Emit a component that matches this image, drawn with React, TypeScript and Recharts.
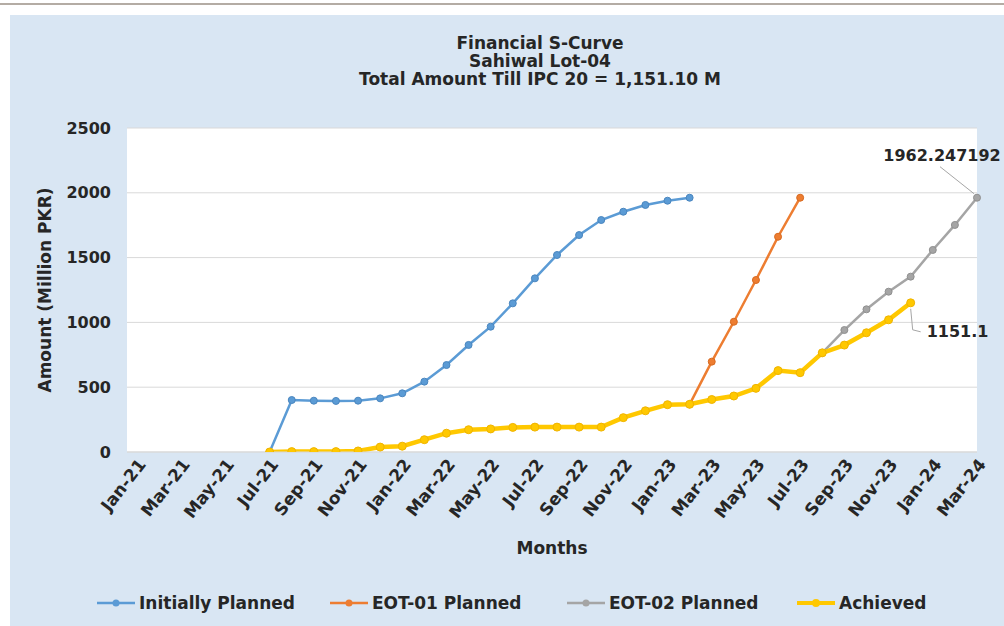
import React from "react";
import { LineChart, Line, XAxis, YAxis, CartesianGrid } from "recharts";

const months = [
  "Jan-21", "Feb-21", "Mar-21", "Apr-21", "May-21", "Jun-21", "Jul-21", "Aug-21", "Sep-21", "Oct-21", "Nov-21", "Dec-21",
  "Jan-22", "Feb-22", "Mar-22", "Apr-22", "May-22", "Jun-22", "Jul-22", "Aug-22", "Sep-22", "Oct-22", "Nov-22", "Dec-22",
  "Jan-23", "Feb-23", "Mar-23", "Apr-23", "May-23", "Jun-23", "Jul-23", "Aug-23", "Sep-23", "Oct-23", "Nov-23", "Dec-23",
  "Jan-24", "Feb-24", "Mar-24",
];

const N = null;

// values in million PKR
const initiallyPlanned = [
  N, N, N, N, N, N, 0, 401, 396, 394, 396, 414,
  453, 543, 671, 826, 967, 1147, 1340, 1520, 1674, 1790, 1854, 1906,
  1939, 1962, N, N, N, N, N, N, N, N, N, N,
  N, N, N,
];

const eot01Planned = [
  N, N, N, N, N, N, N, N, N, N, N, N,
  N, N, N, N, N, N, N, N, N, N, N, N,
  N, 368, 697, 1005, 1327, 1661, 1962, N, N, N, N, N,
  N, N, N,
];

const eot02Planned = [
  N, N, N, N, N, N, N, N, N, N, N, N,
  N, N, N, N, N, N, N, N, N, N, N, N,
  N, N, N, N, N, N, N, 765, 941, 1101, 1237, 1353,
  1559, 1752, 1962.247192,
];

const achieved = [
  N, N, N, N, N, N, 0, 3, 3, 3, 8, 38,
  45, 95, 145, 172, 178, 190, 192, 192, 192, 192, 265, 318,
  365, 368, 405, 432, 491, 628, 612, 765, 825, 920, 1020, 1151.1,
  N, N, N,
];

const yTicks = [0, 500, 1000, 1500, 2000, 2500];

const titleLines = ["Financial S-Curve", "Sahiwal Lot-04", "Total Amount Till IPC 20 = 1,151.10 M"];

const BLUE = "#5b9bd5";
const ORANGE = "#ed7d31";
const GRAY = "#a5a5a5";
const YELLOW = "#ffc800";
const TEXT = "#262626";
const FONT = '"DejaVu Sans", "Liberation Sans", Arial, sans-serif';

const legendItems = [
  { name: "Initially Planned", color: BLUE, left: 97 },
  { name: "EOT-01 Planned", color: ORANGE, left: 330 },
  { name: "EOT-02 Planned", color: GRAY, left: 567 },
  { name: "Achieved", color: YELLOW, left: 797, thick: true },
];

function lastIndex(arr: (number | null)[]) {
  let k = -1;
  arr.forEach((v, i) => {
    if (v != null) k = i;
  });
  return k;
}

const data = months.map((m, i) => ({
  month: m,
  initial: initiallyPlanned[i],
  eot01: eot01Planned[i],
  eot02: eot02Planned[i],
  achieved: achieved[i],
}));

const MonthTick = (props: any) => {
  const { x, y, payload } = props;
  return (
    <g transform={`translate(${x + 5},${y + 1}) rotate(-52)`}>
      <text textAnchor="end" dy="0.35em" fill={TEXT} fontSize={17} fontWeight="bold" fontFamily={FONT}>
        {payload.value}
      </text>
    </g>
  );
};

const AmountTick = (props: any) => {
  const { x, y, payload } = props;
  return (
    <text x={x} y={y} dy="0.35em" textAnchor="end" fill={TEXT} fontSize={16} fontWeight="bold" fontFamily={FONT}>
      {payload.value}
    </text>
  );
};

const eot02Last = lastIndex(eot02Planned);
const achievedLast = lastIndex(achieved);

const Eot02Label = (p: any) => {
  if (p.index !== eot02Last || p.x == null) return <g />;
  const { x, y, value } = p;
  return (
    <g>
      <line x1={x - 37} y1={y - 31} x2={x - 3} y2={y - 4} stroke="#a6a6a6" strokeWidth={1} />
      <text x={x - 35} y={y - 37} textAnchor="middle" fill={TEXT} fontSize={16} fontWeight="bold" fontFamily={FONT}>
        {value}
      </text>
    </g>
  );
};

const AchievedLabel = (p: any) => {
  if (p.index !== achievedLast || p.x == null) return <g />;
  const { x, y, value } = p;
  return (
    <g>
      <polyline points={`${x},${y + 6} ${x + 2},${y + 27} ${x + 10},${y + 29}`} fill="none" stroke="#a6a6a6" strokeWidth={1} />
      <text x={x + 16} y={y + 34} textAnchor="start" fill={TEXT} fontSize={16} fontWeight="bold" fontFamily={FONT}>
        {value}
      </text>
    </g>
  );
};

export default function App() {
  return (
    <div
      style={{
        position: "fixed",
        left: 0,
        top: 0,
        width: 1004,
        height: 626,
        background: "#fff",
        overflow: "hidden",
        fontFamily: FONT,
        color: TEXT,
      }}
    >
      <div style={{ position: "absolute", left: 0, top: 3, width: 1004, height: 2, background: "#b4aca4" }} />
      <div style={{ position: "absolute", left: 10, top: 15, width: 994, height: 611, background: "#d9e6f3" }} />

      <div style={{ position: "absolute", left: 0, top: 0 }}>
        <LineChart width={1004} height={626} data={data} margin={{ top: 128, right: 27, bottom: 114, left: 67 }}>
          <CartesianGrid vertical={false} stroke="#d9d9d9" fill="#ffffff" />
          <XAxis
            dataKey="month"
            interval={1}
            height={60}
            padding={{ left: 10, right: 0 }}
            tick={<MonthTick />}
            tickLine={false}
            axisLine={{ stroke: "#d9d9d9" }}
          />
          <YAxis
            domain={[0, 2500]}
            ticks={yTicks}
            width={60}
            tick={<AmountTick />}
            tickLine={false}
            tickSize={14}
            tickMargin={2}
            axisLine={false}
            allowDataOverflow
          />
          <Line
            dataKey="initial"
            name="Initially Planned"
            stroke={BLUE}
            strokeWidth={2.5}
            dot={{ r: 3.5, fill: BLUE, stroke: "#4a86bf", strokeWidth: 1 }}
            isAnimationActive={false}
          />
          <Line
            dataKey="eot01"
            name="EOT-01 Planned"
            stroke={ORANGE}
            strokeWidth={2.5}
            dot={{ r: 3.5, fill: ORANGE, stroke: "#d86a20", strokeWidth: 1 }}
            isAnimationActive={false}
          />
          <Line
            dataKey="eot02"
            name="EOT-02 Planned"
            stroke={GRAY}
            strokeWidth={2.5}
            dot={{ r: 3.5, fill: GRAY, stroke: "#909090", strokeWidth: 1 }}
            label={<Eot02Label />}
            isAnimationActive={false}
          />
          <Line
            dataKey="achieved"
            name="Achieved"
            stroke={YELLOW}
            strokeWidth={4.5}
            dot={{ r: 4, fill: YELLOW, stroke: "#f0b400", strokeWidth: 1 }}
            label={<AchievedLabel />}
            isAnimationActive={false}
          />
        </LineChart>
      </div>

      {titleLines.map((t, i) => (
        <div
          key={t}
          style={{
            position: "absolute",
            left: 240,
            width: 600,
            top: 34 + i * 18,
            textAlign: "center",
            fontSize: 17,
            lineHeight: "18px",
            fontWeight: "bold",
          }}
        >
          {t}
        </div>
      ))}

      <div
        style={{
          position: "absolute",
          left: 45,
          top: 290,
          transform: "translate(-50%, -50%) rotate(-90deg)",
          whiteSpace: "nowrap",
          fontSize: 17,
          fontWeight: "bold",
        }}
      >
        Amount (Million PKR)
      </div>

      <div
        style={{
          position: "absolute",
          left: 452,
          width: 200,
          top: 538,
          textAlign: "center",
          fontSize: 17,
          fontWeight: "bold",
        }}
      >
        Months
      </div>

      {legendItems.map((it) => (
        <div
          key={it.name}
          style={{
            position: "absolute",
            left: it.left,
            top: 593,
            height: 20,
            display: "flex",
            alignItems: "center",
            whiteSpace: "nowrap",
          }}
        >
          <svg width={38} height={14} style={{ marginRight: 4 }}>
            <line x1={0} y1={7} x2={38} y2={7} stroke={it.color} strokeWidth={it.thick ? 4 : 2.5} />
            <circle cx={19} cy={7} r={it.thick ? 4 : 3.5} fill={it.color} />
          </svg>
          <span style={{ fontSize: 17, fontWeight: "bold" }}>{it.name}</span>
        </div>
      ))}
    </div>
  );
}
